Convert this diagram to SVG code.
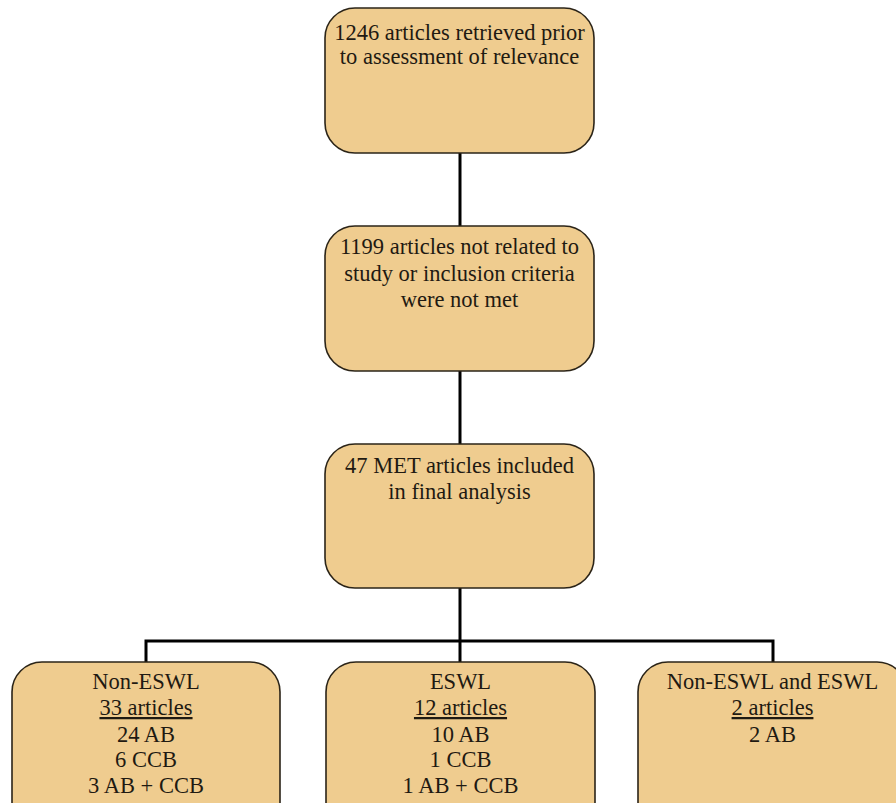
<svg xmlns="http://www.w3.org/2000/svg" width="896" height="803" viewBox="0 0 896 803">
<style>
.box{fill:#EFCC8F;stroke:#2b2418;stroke-width:1.6}
.t{font-size:22.5px;fill:#1f1a12;text-anchor:middle}
.u{text-decoration:underline}
.c{stroke:#000;stroke-width:3;fill:none}
</style>
<rect width="896" height="803" fill="#fff"/>
<g id="connectors">
<line class="c" x1="460" y1="153" x2="460" y2="227"/>
<line class="c" x1="460" y1="370" x2="460" y2="445"/>
<line class="c" x1="460" y1="587" x2="460" y2="663"/>
<polyline class="c" points="146,663 146,641 773,641 773,663"/>
</g>
<g font-family="Liberation Serif, Times New Roman, serif">
<g id="n1">
<rect class="box" x="325" y="8" width="269" height="145" rx="30"/>
<text class="t" x="459.5" y="40">1246 articles retrieved prior</text>
<text class="t" x="459.5" y="64">to assessment of relevance</text>
</g>
<g id="n2">
<rect class="box" x="325" y="226" width="269" height="145" rx="30"/>
<text class="t" x="459.5" y="254">1199 articles not related to</text>
<text class="t" x="459.5" y="281">study or inclusion criteria</text>
<text class="t" x="459.5" y="307">were not met</text>
</g>
<g id="n3">
<rect class="box" x="325" y="444" width="269" height="144" rx="30"/>
<text class="t" x="459.5" y="473">47 MET articles included</text>
<text class="t" x="459.5" y="499">in final analysis</text>
</g>
<g id="n4">
<rect class="box" x="12" y="662" width="268" height="170" rx="30"/>
<text class="t" x="146" y="689">Non-ESWL</text>
<text class="t u" x="146" y="715">33 articles</text>
<text class="t" x="146" y="742">24 AB</text>
<text class="t" x="146" y="767">6 CCB</text>
<text class="t" x="146" y="793">3 AB + CCB</text>
</g>
<g id="n5">
<rect class="box" x="326" y="662" width="269" height="170" rx="30"/>
<text class="t" x="460.5" y="689">ESWL</text>
<text class="t u" x="460.5" y="715">12 articles</text>
<text class="t" x="460.5" y="742">10 AB</text>
<text class="t" x="460.5" y="767">1 CCB</text>
<text class="t" x="460.5" y="793">1 AB + CCB</text>
</g>
<g id="n6">
<rect class="box" x="638" y="662" width="269" height="170" rx="30"/>
<text class="t" x="772.5" y="689">Non-ESWL and ESWL</text>
<text class="t u" x="772.5" y="715">2 articles</text>
<text class="t" x="772.5" y="742">2 AB</text>
</g>
</g>
</svg>
